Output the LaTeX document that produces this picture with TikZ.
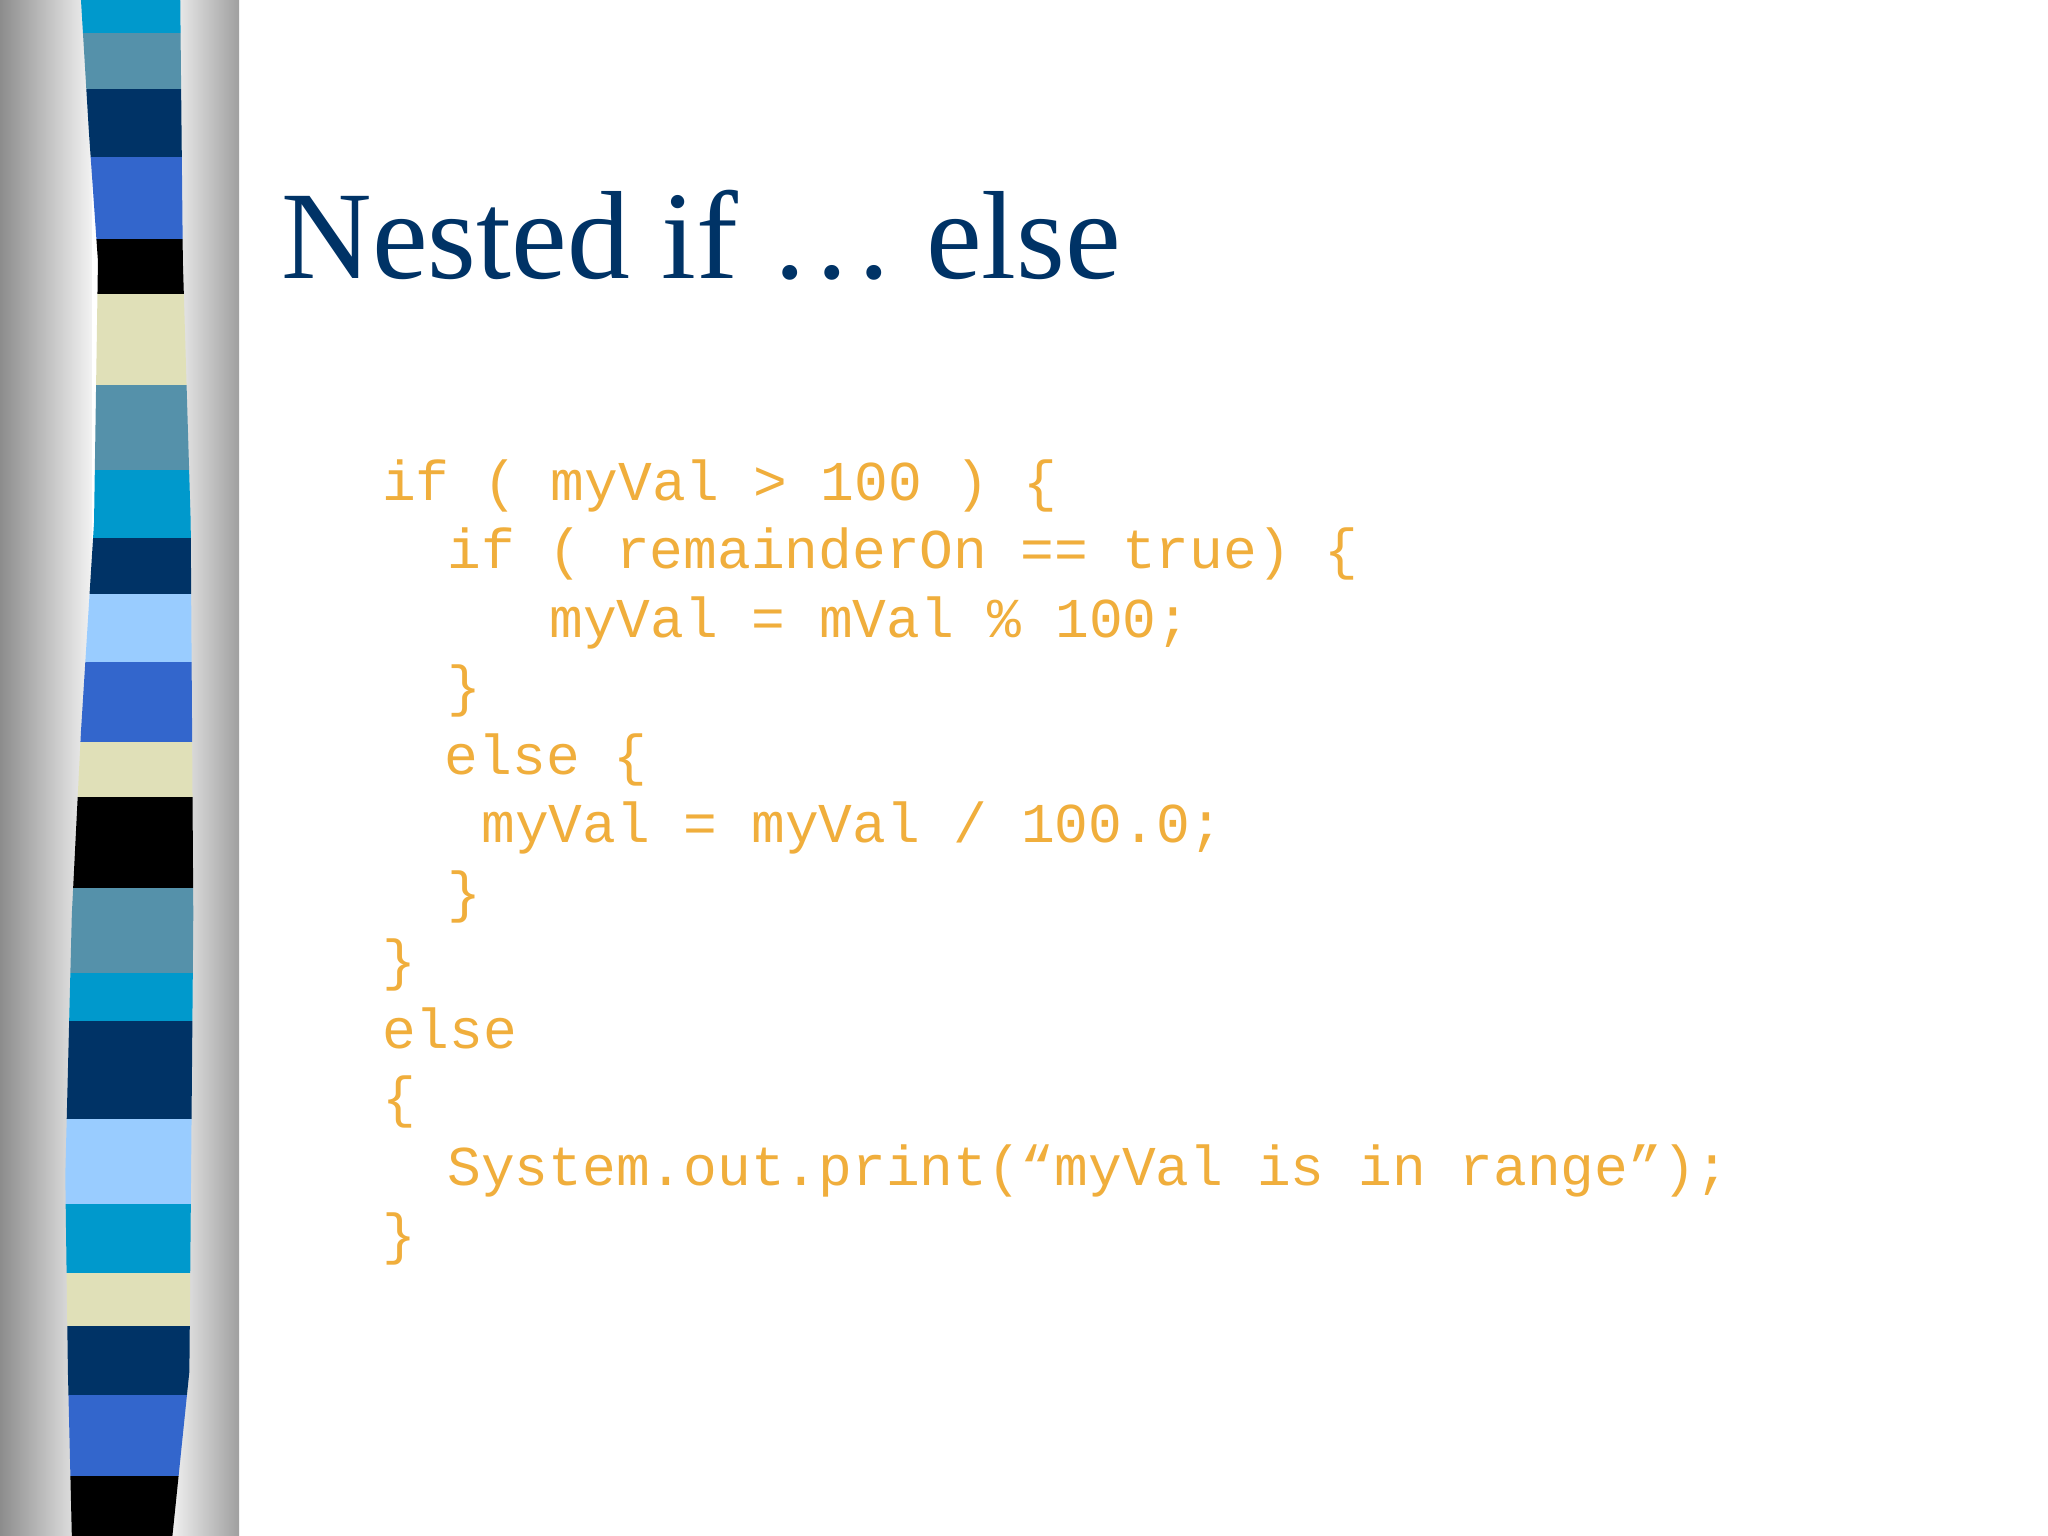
\documentclass[tikz,border=0pt]{standalone}
\usepackage{fontspec}
\setmainfont{Liberation Serif}
\newfontfamily\codefont{Liberation Mono}
\definecolor{navy}{HTML}{003366}
\definecolor{cyanb}{HTML}{0099CC}
\definecolor{steel}{HTML}{5591AA}
\definecolor{royal}{HTML}{3366CC}
\definecolor{beige}{HTML}{E0E0B8}
\definecolor{lightb}{HTML}{99CCFF}
\definecolor{codeor}{HTML}{F0AE3C}
\begin{document}
\begin{tikzpicture}[x=0.01306cm,y=-0.01306cm,
  code/.style={anchor=base west,inner sep=0pt,text=codeor,font=\codefont\fontsize{16pt}{18pt}\selectfont}]
\useasboundingbox (0,0) rectangle (1568,1176);
\fill[white] (0,0) rectangle (1568,1176);
\shade[left color=gray!90,right color=gray!10] (0,0) rectangle (70,1176);
\shade[left color=gray!10,right color=gray!75] (130,0) rectangle (183,1176);
\begin{scope}
\clip (62,0) -- (68,100) -- (75,200) -- (72,400) -- (62,560) -- (55,700) -- (50,900) -- (52,1050) -- (55,1176)
 -- (132,1176) -- (145,1050) -- (148,700) -- (146,400) -- (140,200) -- (138,0) -- cycle;
\foreach \a/\b/\c in {0/25/cyanb,25/68/steel,68/120/navy,120/183/royal,183/225/black,225/295/beige,295/360/steel,360/412/cyanb,412/455/navy,455/507/lightb,507/568/royal,568/610/beige,610/680/black,680/745/steel,745/782/cyanb,782/857/navy,857/922/lightb,922/975/cyanb,975/1015/beige,1015/1068/navy,1068/1130/royal,1130/1176/black}
  \fill[\c] (40,\a) rectangle (160,\b);
\end{scope}
\node[anchor=base west,inner sep=0pt,text=navy,font=\fontsize{35.7pt}{40pt}\selectfont] (title) at (215,213) {Nested if … else};
\node[code] (l1) at (292,383) {if ( myVal > 100 ) \{};
\node[code] (l2) at (342,435) {if ( remainderOn == true) \{};
\node[code] (l3) at (420,488) {myVal = mVal \% 100;};
\node[code] (l4) at (342,540) {\}};
\node[code] (l5) at (340,593) {else \{};
\node[code] (l6) at (368,645) {myVal = myVal / 100.0;};
\node[code] (l7) at (342,698) {\}};
\node[code] (l8) at (292,750) {\}};
\node[code] (l9) at (292,803) {else};
\node[code] (l10) at (292,855) {\{};
\node[code] (l11) at (342,908) {System.out.print(“myVal is in range”);};
\node[code] (l12) at (292,960) {\}};
\end{tikzpicture}
\end{document}
